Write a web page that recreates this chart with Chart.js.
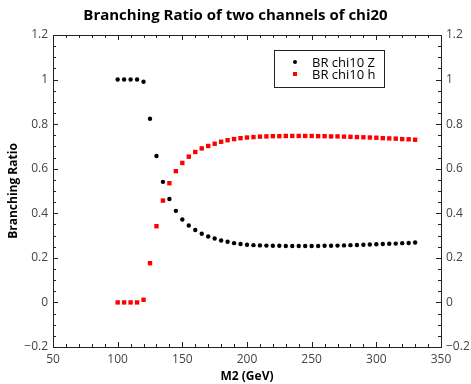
<!DOCTYPE html>
<html>
<head>
<meta charset="utf-8">
<script src="https://cdn.jsdelivr.net/npm/chart.js@4.4.1/dist/chart.umd.min.js"></script>
<style>
  html, body { margin: 0; padding: 0; background: white; }
  #wrap { width: 471px; height: 384px; }
</style>
</head>
<body>
<div id="wrap"><canvas id="myChart"></canvas></div>
<script>
// masses (GeV)
const mass = [100,105,110,115,120,125,130,135,140,145,150,155,160,165,170,175,180,185,190,195,
  200,205,210,215,220,225,230,235,240,245,250,255,260,265,270,275,280,285,290,295,300,305,310,315,320,325,330]

// BR chi10 Z
const brZ = [1.0,1.0,1.0,1.0,0.99,0.824,0.657,0.541,0.464,0.411,0.372,0.345,0.325,0.308,0.296,0.287,0.278,0.272,0.266,0.262,
  0.259,0.257,0.256,0.255,0.254,0.254,0.253,0.253,0.253,0.253,0.253,0.253,0.254,0.254,0.255,0.256,0.257,0.258,0.259,0.260,0.261,0.262,0.263,0.264,0.266,0.267,0.269]

// BR chi10 h
const brH = [0,0,0,0,0.012,0.176,0.342,0.457,0.535,0.589,0.626,0.654,0.675,0.691,0.702,0.712,0.721,0.728,0.733,0.737,
  0.740,0.742,0.744,0.745,0.746,0.746,0.747,0.747,0.747,0.747,0.747,0.746,0.746,0.745,0.745,0.744,0.743,0.742,0.741,0.740,0.739,0.737,0.736,0.735,0.733,0.732,0.730]

const labelZ = "BR chi10 Z"
const labelH = "BR chi10 h"
const titulo = "Branching Ratio of two channels of chi20"
const xTitulo = "M2 (GeV)"
const yTitulo = "Branching Ratio"

const fuente = "'Open Sans', 'DejaVu Sans', sans-serif"

function puntos(ys) {
  return mass.map((m, i) => ({ x: m, y: ys[i] }))
}

function menos(v) {
  return String(Math.round(v * 10) / 10).replace("-", "\u2212")
}

// ticks hacia adentro en los 4 lados + marco
const ticksAdentro = {
  id: "ticksAdentro",
  afterDraw(chart) {
    const ctx = chart.ctx
    const a = chart.chartArea
    const sx = chart.scales.x
    const sy = chart.scales.y
    ctx.save()
    ctx.strokeStyle = "#222"
    ctx.lineWidth = 1
    ctx.beginPath()
    for (let v = 50; v <= 350; v += 10) {
      const px = Math.round(sx.getPixelForValue(v)) + 0.5
      const len = v % 50 == 0 ? 5 : 3
      ctx.moveTo(px, a.bottom); ctx.lineTo(px, a.bottom - len)
      ctx.moveTo(px, a.top); ctx.lineTo(px, a.top + len)
    }
    for (let k = -4; k <= 24; k++) {
      const v = k * 0.05
      const py = Math.round(sy.getPixelForValue(v)) + 0.5
      const len = k % 4 == 0 ? 5 : 3
      ctx.moveTo(a.left, py); ctx.lineTo(a.left + len, py)
      ctx.moveTo(a.right, py); ctx.lineTo(a.right - len, py)
    }
    ctx.stroke()
    ctx.strokeRect(Math.round(a.left) + 0.5, Math.round(a.top) + 0.5, Math.round(a.right - a.left), Math.round(a.bottom - a.top))
    ctx.restore()
  }
}

// leyenda con caja dentro del area
const leyenda = {
  id: "leyenda",
  afterDraw(chart) {
    const ctx = chart.ctx
    const a = chart.chartArea
    const x0 = a.left + 221, y0 = a.top + 15
    ctx.save()
    ctx.fillStyle = "white"
    ctx.fillRect(x0, y0, 110, 37)
    ctx.strokeStyle = "#222"
    ctx.lineWidth = 1
    ctx.strokeRect(x0 + 0.5, y0 + 0.5, 110, 37)
    ctx.font = "13px " + fuente
    ctx.textBaseline = "middle"
    chart.data.datasets.forEach((ds, i) => {
      const cy = y0 + 12 + i * 12
      ctx.fillStyle = ds.backgroundColor
      if (ds.pointStyle == "rect") ctx.fillRect(x0 + 19, cy - 2, 4, 4)
      else { ctx.beginPath(); ctx.arc(x0 + 21, cy, 2, 0, Math.PI * 2); ctx.fill() }
      ctx.fillStyle = "#000"
      ctx.fillText(ds.label, x0 + 38, cy + 1)
    })
    ctx.restore()
  }
}

const config = {
  type: "scatter",
  data: {
    datasets: [
      { label: labelZ, data: puntos(brZ), backgroundColor: "#000", borderColor: "#000", pointStyle: "circle", pointRadius: 2.2, borderWidth: 0 },
      { label: labelH, data: puntos(brH), backgroundColor: "#f00", borderColor: "#f00", pointStyle: "rect", pointRadius: 3.1, borderWidth: 0 }
    ]
  },
  options: {
    responsive: true,
    maintainAspectRatio: false,
    animation: false,
    layout: { padding: 0 },
    plugins: {
      legend: { display: false },
      tooltip: { enabled: false },
      title: {
        display: true,
        text: titulo,
        color: "#000",
        font: { family: fuente, size: 15, weight: "bold" },
        padding: { top: 7, bottom: 10 }
      }
    },
    scales: {
      x: {
        type: "linear", position: "bottom", min: 50, max: 350,
        grid: { display: false, drawTicks: false },
        border: { display: false },
        ticks: { stepSize: 50, padding: 5, color: "#444", font: { family: fuente, size: 12 } },
        title: { display: true, text: xTitulo, color: "#000", font: { family: fuente, size: 12, weight: "bold" }, padding: 0 },
        afterFit(s) { s.height = 37 }
      },
      x2: {
        type: "linear", position: "top", min: 50, max: 350,
        grid: { display: false, drawTicks: false },
        border: { display: false },
        ticks: { display: false },
        afterFit(s) { s.height = 0 }
      },
      y: {
        type: "linear", position: "left", min: -0.2, max: 1.2,
        grid: { display: false, drawTicks: false },
        border: { display: false },
        ticks: { stepSize: 0.2, padding: 5, color: "#444", font: { family: fuente, size: 12 }, callback: v => menos(v) },
        title: { display: true, text: yTitulo, color: "#000", font: { family: fuente, size: 12, weight: "bold" }, padding: { top: 6, bottom: 0 } },
        afterFit(s) { s.width = 53 }
      },
      y2: {
        type: "linear", position: "right", min: -0.2, max: 1.2,
        grid: { display: false, drawTicks: false },
        border: { display: false },
        ticks: { stepSize: 0.2, padding: 5, color: "#444", font: { family: fuente, size: 12 }, callback: v => menos(v) },
        afterFit(s) { s.width = 30 }
      }
    }
  },
  plugins: [ticksAdentro, leyenda]
}

const myChart = document.getElementById("myChart")
new Chart(myChart, config)
</script>
</body>
</html>
